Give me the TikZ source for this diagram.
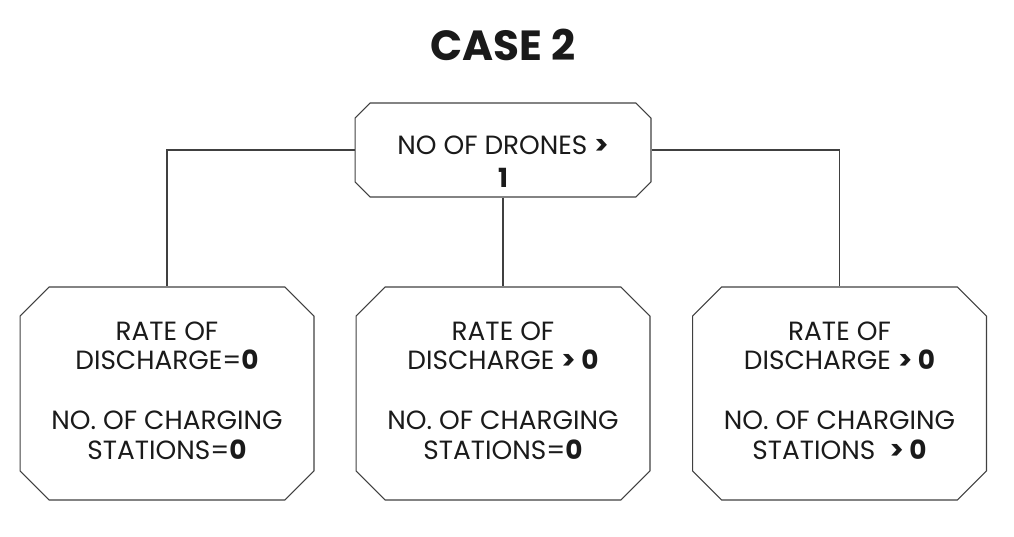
\documentclass[tikz,border=0pt]{standalone}
\usepackage{fontspec}
\setmainfont{Poppins}
\usetikzlibrary{shapes.misc}
\definecolor{linegray}{HTML}{404040}
\definecolor{textdark}{HTML}{1A1A1A}
\begin{document}
\begin{tikzpicture}[x=0.02cm,y=-0.02cm,
    box/.style={draw=linegray, line width=0.6pt, chamfered rectangle, align=center,
        text=textdark, inner sep=0pt},
    topbox/.style={box, minimum width=5.92cm, minimum height=1.88cm,
        font=\fontsize{15}{18.7}\selectfont,
        chamfered rectangle xsep=0.15cm, chamfered rectangle ysep=0.15cm},
    leaf/.style={box, minimum width=5.88cm, minimum height=4.26cm,
        font=\fontsize{15}{17}\selectfont,
        chamfered rectangle xsep=0.29cm, chamfered rectangle ysep=0.29cm},
    link/.style={draw=linegray, line width=0.6pt}]
            \useasboundingbox (0,0) rectangle (1014,537);
            \node[font=\fontsize{24}{28}\selectfont\bfseries, text=textdark](title) at (503,45){CASE 2};
            \node[topbox](drones) at (503,150){\rule{0pt}{24pt}NO OF DRONES \textbf{>}\\ \textbf{1}};
            \node[leaf](none) at (167,393.5){RATE OF\\ DISCHARGE=\textbf{0}\\[17pt] NO. OF CHARGING\\ STATIONS=\textbf{0}\rule[-3.4pt]{0pt}{0pt}};
            \node[leaf](rate) at (503,393.5){RATE OF\\ DISCHARGE \textbf{> 0}\\[17pt] NO. OF CHARGING\\ STATIONS=\textbf{0}\rule[-3.4pt]{0pt}{0pt}};
            \node[leaf](both) at (839.5,393.5){RATE OF\\ DISCHARGE \textbf{> 0}\\[17pt] NO. OF CHARGING\\ STATIONS \ \textbf{> 0}\rule[-3.4pt]{0pt}{0pt}};
            \path[link] (drones.west) -| (none.north);
            \path[link] (drones.south) -- (rate.north);
            \path[link] (drones.east) -| (both.north);
\end{tikzpicture}
\end{document}
